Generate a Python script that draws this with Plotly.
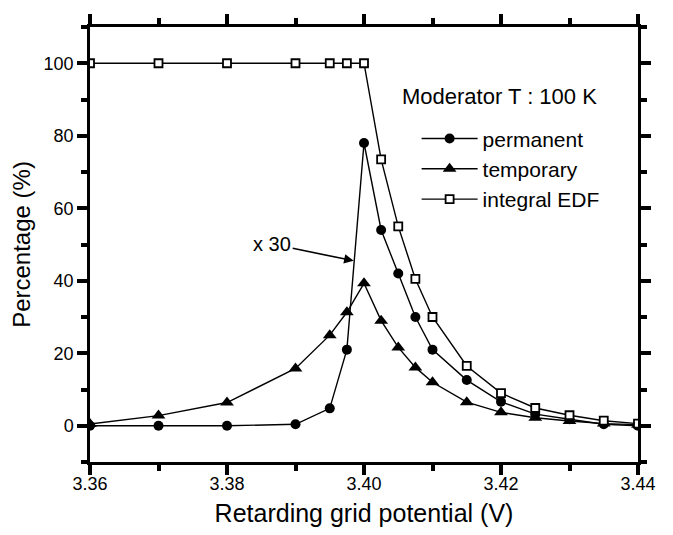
import plotly.graph_objects as go

# Data
potential = [3.36, 3.37, 3.38, 3.39, 3.395, 3.3975, 3.40, 3.4025, 3.405, 3.4075,
             3.41, 3.415, 3.42, 3.425, 3.43, 3.435, 3.44]
permanent = [0, 0, 0, 0.4, 4.8, 21, 78, 54, 42, 30, 21, 12.6, 6.6, 3.2, 1.8, 0.4, 0]
temporary = [0.5, 2.8, 6.4, 15.8, 25, 31.3, 39.3, 29, 21.6, 16.1, 12, 6.5, 3.7, 2.2, 1.3, 0.6, 0.3]
integral_edf = [100, 100, 100, 100, 100, 100, 100, 73.5, 55, 40.5, 30, 16.5, 9, 4.9, 2.9, 1.4, 0.6]

x_ticks = [3.36, 3.38, 3.40, 3.42, 3.44]
x_ticklabels = ["3.36", "3.38", "3.40", "3.42", "3.44"]
y_ticks = [0, 20, 40, 60, 80, 100]
x_minor = [3.37, 3.39, 3.41, 3.43]
y_minor = [-10, 10, 30, 50, 70, 90, 110]

FONT = "Liberation Sans, Arial, Helvetica, sans-serif"

fig = go.Figure()
fig.add_trace(go.Scatter(
    x=potential, y=permanent, name="permanent", mode="lines+markers",
    line=dict(color="black", width=1.4),
    marker=dict(symbol="circle", size=10, color="black"),
))
fig.add_trace(go.Scatter(
    x=potential, y=temporary, name="temporary", mode="lines+markers",
    line=dict(color="black", width=1.4),
    marker=dict(symbol="triangle-up", size=12, color="black"),
))
fig.add_trace(go.Scatter(
    x=potential, y=integral_edf, name="integral EDF", mode="lines+markers",
    line=dict(color="black", width=1.4),
    marker=dict(symbol="square", size=8, color="white",
                line=dict(color="black", width=1.8)),
))

fig.update_xaxes(
    range=[3.36, 3.44],
    tickmode="array", tickvals=x_ticks, ticktext=x_ticklabels,
    showline=True, linecolor="black", linewidth=2.5, mirror="allticks",
    ticks="outside", ticklen=10, tickwidth=4, tickcolor="black",
    ticklabelstandoff=-6,
    showgrid=False, zeroline=False,
    tickfont=dict(family=FONT, size=18, color="black"),
    minor=dict(tickmode="array", tickvals=x_minor, ticklen=6, tickwidth=4,
               tickcolor="black", ticks="outside", showgrid=False),
    title=dict(text="Retarding grid potential (V)",
               font=dict(family=FONT, size=25, color="black"), standoff=12),
)
fig.update_yaxes(
    range=[-10, 110],
    tickmode="array", tickvals=y_ticks,
    showline=True, linecolor="black", linewidth=2.5, mirror="allticks",
    ticks="outside", ticklen=10, tickwidth=4, tickcolor="black",
    showgrid=False, zeroline=False,
    tickfont=dict(family=FONT, size=18, color="black"),
    minor=dict(tickmode="array", tickvals=y_minor, ticklen=6, tickwidth=4,
               tickcolor="black", ticks="outside", showgrid=False),
    title=dict(text="Percentage (%)",
               font=dict(family=FONT, size=24, color="black"), standoff=8),
)

fig.add_annotation(
    x=3.4053, y=90.8, xref="x", yref="y", text="Moderator T : 100 K",
    showarrow=False, xanchor="left", yanchor="middle",
    font=dict(family=FONT, size=22, color="black"),
)
fig.add_annotation(
    x=3.3985, y=45.5, xref="x", yref="y",
    ax=3.3866, ay=50.1, axref="x", ayref="y",
    text="x 30", showarrow=True, arrowhead=2, arrowsize=1.2, arrowwidth=1.6,
    arrowcolor="black",
    font=dict(family=FONT, size=20, color="black"),
)

# page body has an 8px default margin, so shrink the figure accordingly
fig.update_layout(
    width=665, height=527,
    margin=dict(l=82, r=35, t=6, b=73),
    paper_bgcolor="white", plot_bgcolor="white",
    showlegend=True,
    legend=dict(
        x=0.596, y=0.79, xanchor="left", yanchor="top",
        bgcolor="rgba(0,0,0,0)", borderwidth=0,
        font=dict(family=FONT, size=21, color="black"),
        tracegroupgap=0, itemwidth=56,
    ),
)

fig.write_html("out.html")
